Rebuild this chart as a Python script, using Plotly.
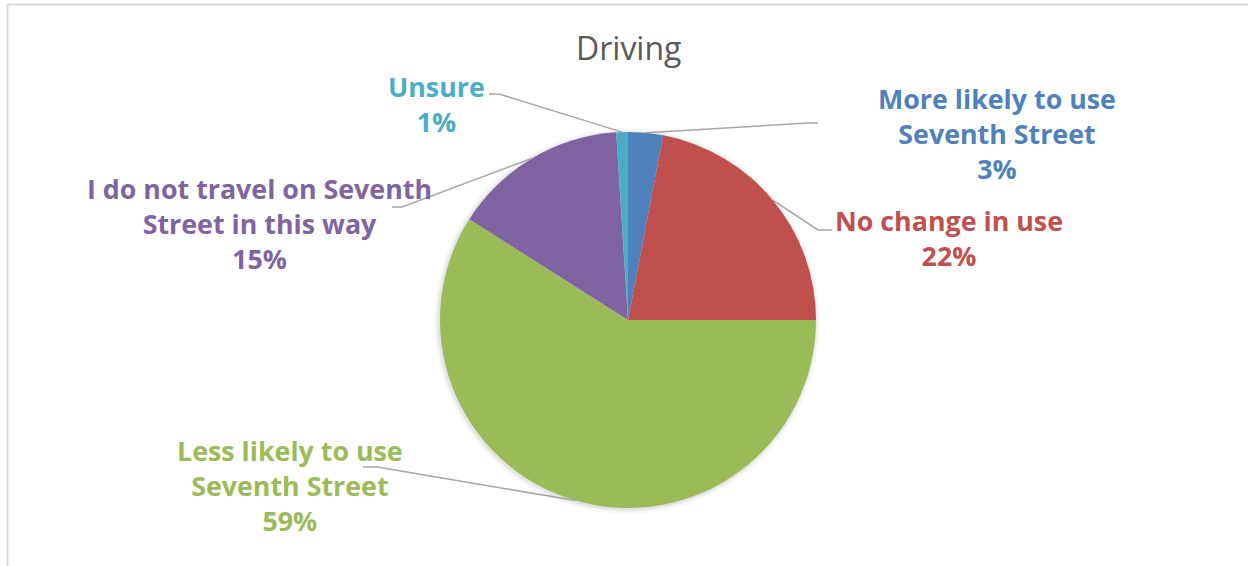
import math
import plotly.graph_objects as go

W, H = 1248, 566

# Survey responses (percent of respondents), clockwise from 12 o'clock
categories = [
    "More likely to use Seventh Street",
    "No change in use",
    "Less likely to use Seventh Street",
    "I do not travel on Seventh Street in this way",
    "Unsure",
]
values = [3, 22, 59, 15, 1]
label_lines = [
    ["More likely to use", "Seventh Street"],
    ["No change in use"],
    ["Less likely to use", "Seventh Street"],
    ["I do not travel on Seventh", "Street in this way"],
    ["Unsure"],
]
colors = ["#4F81BD", "#C0504D", "#9BBB59", "#8064A2", "#4BACC6"]

# Pie geometry in pixels
cx, cy, r = 628, 320, 188

# Label block centres and leader-line elbows (pixels)
label_pos = [(997, 133), (949, 238), (290, 485), (259, 224), (436, 104)]
elbows = [
    [(808, 123), (818, 123)],
    [(818, 230), (832, 230)],
    [(377, 467), (363, 467)],
    [(402, 207), (392, 207)],
    [(499, 94), (489, 94)],
]


def px(x):
    return x / W


def py(y):
    return 1 - y / H


fig = go.Figure(
    go.Pie(
        labels=categories,
        values=values,
        sort=False,
        direction="clockwise",
        rotation=0,
        marker=dict(colors=colors, line=dict(width=0)),
        textinfo="none",
        hoverinfo="label+percent",
        showlegend=False,
        domain=dict(x=[px(cx - r), px(cx + r)], y=[py(cy + r), py(cy - r)]),
    )
)

shapes = []
annotations = []

# Soft drop shadow behind the pie
for grow, alpha in [(5, 0.025), (3, 0.035), (1.5, 0.05)]:
    rr = r + grow
    shapes.append(dict(type="circle", xref="paper", yref="paper", layer="below",
                       x0=px(cx - rr - 1), x1=px(cx + rr - 1),
                       y0=py(cy + rr + 1), y1=py(cy - rr + 1),
                       fillcolor=f"rgba(0,0,0,{alpha})", line=dict(width=0)))

total = sum(values)
cum = 0
for i, v in enumerate(values):
    mid = (cum + v / 2) / total * 2 * math.pi
    cum += v
    ex = cx + r * math.sin(mid)
    ey = cy - r * math.cos(mid)
    pts = [(ex, ey)] + elbows[i]
    path = "M " + " L ".join(f"{px(x):.5f},{py(y):.5f}" for x, y in pts)
    shapes.append(
        dict(type="path", path=path, xref="paper", yref="paper",
             line=dict(color="#a6a6a6", width=1.5))
    )
    pct = round(v / total * 100)
    text = "<br>".join(label_lines[i] + [f"{pct}%"])
    lx, ly = label_pos[i]
    annotations.append(
        dict(text=text, x=px(lx), y=py(ly), xref="paper", yref="paper",
             xanchor="center", yanchor="middle", align="center",
             showarrow=False,
             font=dict(family="Open Sans", size=26.8, color=colors[i], weight=700))
    )

# Title
annotations.append(
    dict(text="Driving", x=px(628), y=py(47), xref="paper", yref="paper",
         xanchor="center", yanchor="middle", showarrow=False,
         font=dict(family="Open Sans", size=32, color="#595959"))
)

# Chart frame (top and left edges)
shapes.append(dict(type="line", xref="paper", yref="paper",
                   x0=px(7), x1=1, y0=py(4.5), y1=py(4.5),
                   line=dict(color="#d9d9d9", width=2)))
shapes.append(dict(type="line", xref="paper", yref="paper",
                   x0=px(7.5), x1=px(7.5), y0=py(4), y1=0,
                   line=dict(color="#d9d9d9", width=2)))

fig.update_layout(
    width=W, height=H,
    margin=dict(l=0, r=0, t=0, b=0),
    paper_bgcolor="white",
    plot_bgcolor="white",
    shapes=shapes,
    annotations=annotations,
)

fig.write_html("out.html")
